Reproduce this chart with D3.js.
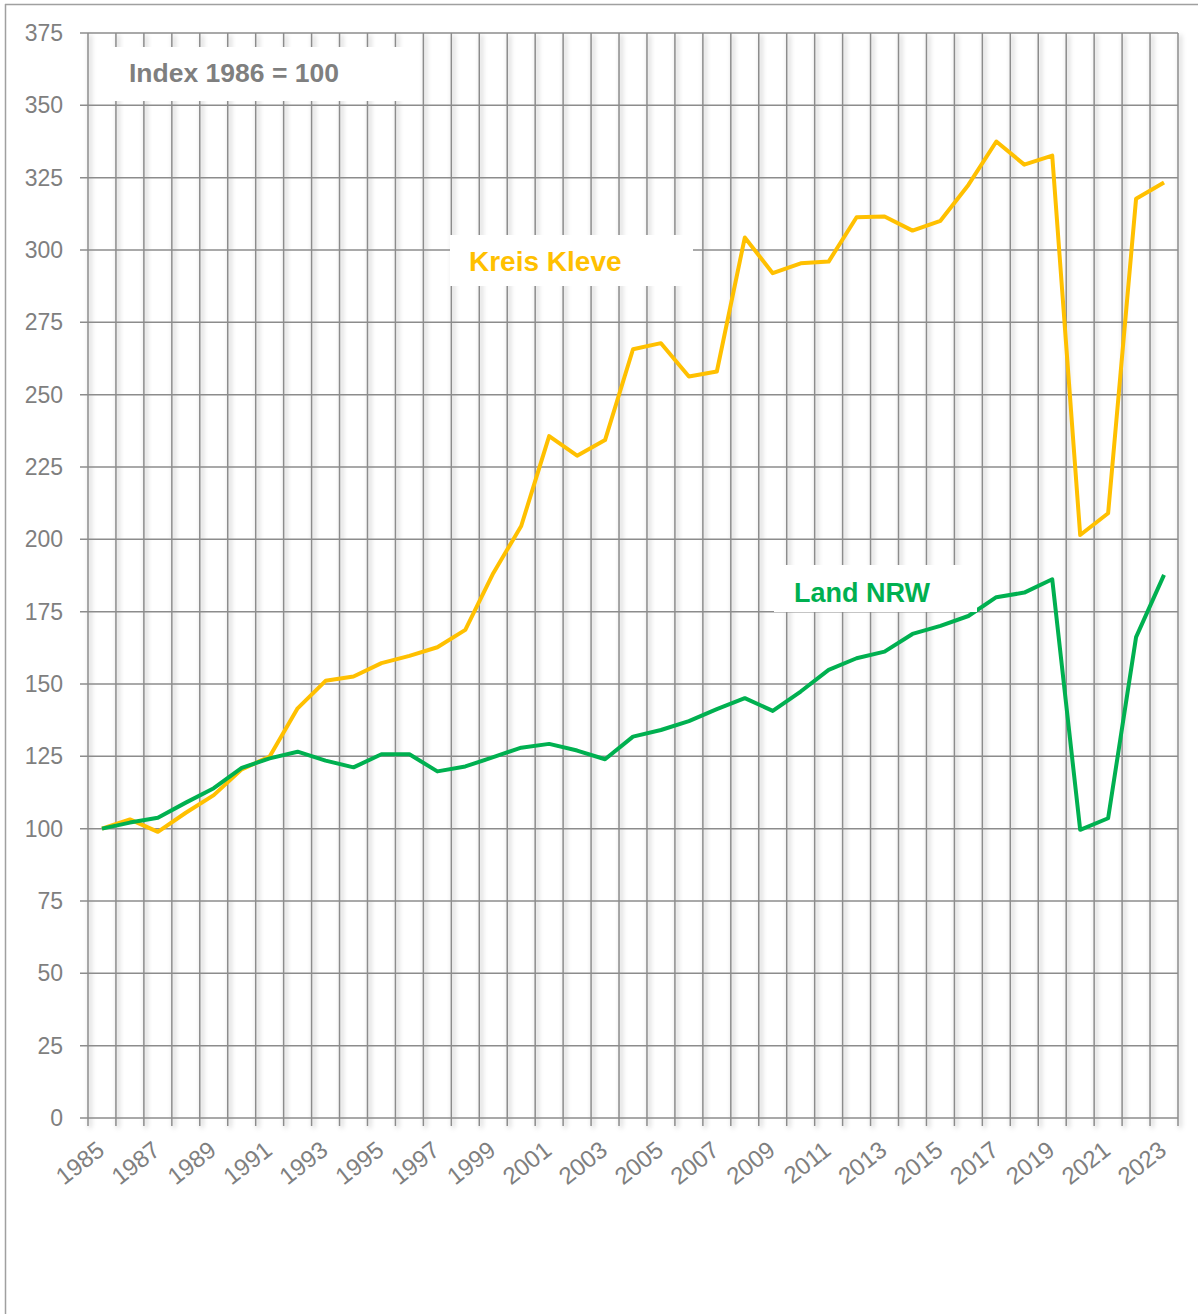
<!DOCTYPE html>
<html>
<head>
<meta charset="utf-8">
<script src="https://cdn.jsdelivr.net/npm/d3@7"></script>
<style>
  html, body { margin: 0; padding: 0; background: #fff; }
  svg { display: block; font-family: "Liberation Sans", Arial, sans-serif; }
</style>
</head>
<body>
<svg id="chart" width="1198" height="1314"></svg>
<script>
const years = d3.range(1985, 2024);
const yTicks = [0, 25, 50, 75, 100, 125, 150, 175, 200, 225, 250, 275, 300, 325, 350, 375];
const xLabelYears = d3.range(1985, 2024, 2);

const kleve = [100, 103.2, 98.9, 105.5, 111.6, 120.5, 124.9, 141.6, 151.1, 152.6,
  157.2, 159.7, 162.7, 168.7, 188.3, 204.6, 235.7, 228.9, 234.3, 265.7,
  267.8, 256.3, 258, 304.3, 292, 295.4, 296, 311.3, 311.6, 306.7,
  310.1, 322.5, 337.5, 329.5, 332.6, 201.5, 209, 317.7, 323.3];
const nrw = [100, 102.1, 103.8, 109, 114, 121, 124.3, 126.6, 123.5, 121.2,
  125.7, 125.7, 119.8, 121.5, 124.7, 128, 129.3, 127, 124, 131.8,
  134.1, 137.2, 141.3, 145.1, 140.7, 147.4, 154.9, 158.9, 161.2, 167.3,
  170.1, 173.5, 180, 181.6, 186.2, 99.6, 103.6, 166.2, 187.7];

const annotations = [
  { text: "Index 1986 = 100", color: "#7f7f7f", size: 26.5, box: [110, 47, 300, 54], tx: 129, ty: 82 },
  { text: "Kreis Kleve", color: "#ffc000", size: 28, box: [450, 235, 243, 51], tx: 469, ty: 271 },
  { text: "Land NRW", color: "#00b050", size: 27, box: [774, 565, 203, 47], tx: 794, ty: 602 }
];

const svg = d3.select("#chart");
const plotL = 88, plotR = 1178, plotT = 33, plotB = 1118;

const x = d3.scaleBand().domain(years).range([plotL, plotR]).padding(0);
const y = d3.scaleLinear().domain([0, 375]).range([plotB, plotT]);
const bw = x.bandwidth();

// outer frame
svg.append("line").attr("x1", 5).attr("x2", 1198).attr("y1", 4.5).attr("y2", 4.5)
  .attr("stroke", "#a0a0a0").attr("stroke-width", 1.5);
svg.append("line").attr("x1", 5.5).attr("x2", 5.5).attr("y1", 4).attr("y2", 1314)
  .attr("stroke", "#a0a0a0").attr("stroke-width", 1.5);

const defs = svg.append("defs");
const f = defs.append("filter").attr("id", "shadow")
  .attr("x", "-50%").attr("y", "-5%").attr("width", "200%").attr("height", "110%");
f.append("feDropShadow").attr("dx", 2).attr("dy", 2).attr("stdDeviation", 2.5)
  .attr("flood-color", "#000").attr("flood-opacity", 0.35);

const gridColor = "#8c8c8c";

// vertical gridlines at category boundaries
const boundaries = years.map(d => x(d)).concat([x.range()[1]]);
svg.append("g").attr("filter", "url(#shadow)")
  .selectAll("line").data(boundaries).join("line")
  .attr("x1", d => d).attr("x2", d => d)
  .attr("y1", plotT).attr("y2", plotB + 8)
  .attr("stroke", gridColor).attr("stroke-width", 1.5);

// horizontal gridlines
svg.append("g").selectAll("line").data(yTicks).join("line")
  .attr("x1", plotL - 8).attr("x2", plotR)
  .attr("y1", d => y(d)).attr("y2", d => y(d))
  .attr("stroke", gridColor).attr("stroke-width", 1.5);

// y axis labels
const yAxis = d3.axisLeft(y).tickValues(yTicks).tickSize(0).tickPadding(25);
const gy = svg.append("g").attr("transform", `translate(${plotL},0)`).call(yAxis);
gy.select(".domain").remove();
gy.selectAll("text").attr("fill", "#7f7f7f").style("font-size", "23px")
  .style("font-family", "'Liberation Sans', Arial, sans-serif");

// x axis labels
svg.append("g").selectAll("text").data(xLabelYears).join("text")
  .attr("transform", d => `translate(${x(d) + bw / 2 + 4},${plotB + 35}) rotate(-38)`)
  .attr("text-anchor", "end")
  .attr("fill", "#7f7f7f").style("font-size", "24px")
  .text(d => d);

// lines
const line = d3.line().x((d, i) => x(years[i]) + bw / 2).y(d => y(d));
svg.append("path").datum(kleve).attr("d", line)
  .attr("fill", "none").attr("stroke", "#ffc000").attr("stroke-width", 4)
  .attr("stroke-linejoin", "round");
svg.append("path").datum(nrw).attr("d", line)
  .attr("fill", "none").attr("stroke", "#00b050").attr("stroke-width", 4)
  .attr("stroke-linejoin", "round");

// annotation boxes
const ann = svg.append("g").selectAll("g").data(annotations).join("g");
ann.append("rect")
  .attr("x", d => d.box[0]).attr("y", d => d.box[1])
  .attr("width", d => d.box[2]).attr("height", d => d.box[3])
  .attr("fill", "#fff");
ann.append("text")
  .attr("x", d => d.tx).attr("y", d => d.ty)
  .attr("fill", d => d.color)
  .style("font-size", d => d.size + "px").style("font-weight", "bold")
  .text(d => d.text);
</script>
</body>
</html>
